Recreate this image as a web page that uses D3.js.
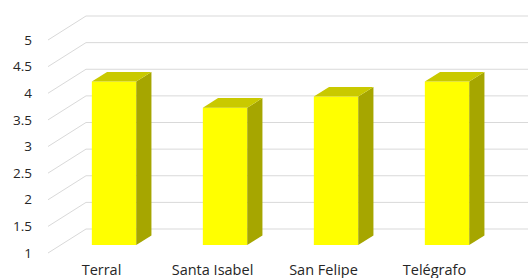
<!DOCTYPE html>
<html>
<head>
<meta charset="utf-8">
<script src="https://cdn.jsdelivr.net/npm/d3@7"></script>
<style>
  body { margin: 0; background: #fff; }
  text { font-family: "Open Sans", "Noto Sans", sans-serif; fill: #262626; }
</style>
</head>
<body>
<svg id="chart" width="528" height="278"></svg>
<script>
// ------ data
var categories = ["Terral", "Santa Isabel", "San Felipe", "Telégrafo"];
var values = [4.07, 3.58, 3.79, 4.07];
var tickValues = [1, 1.5, 2, 2.5, 3, 3.5, 4, 4.5, 5];

// ------ 3d look (Excel style)
var wallDx = 38, wallDy = -24;      // full depth of the walls
var barFront = 0.33, barDepth = 0.4; // fractions of the full depth

var svg = d3.select("#chart");

var y = d3.scaleLinear().domain([1, 5]).range([253, 40]);
var x = d3.scaleBand().domain(categories).range([46, 490])
  .paddingInner(0.6).paddingOuter(0.3);

var x0 = 48; // front edge of left wall

// gridlines: left wall diagonals + back wall horizontals
var grid = svg.append("g").attr("stroke", "#d9d9d9").attr("stroke-width", 1).attr("fill", "none");
tickValues.forEach(function(v) {
  grid.append("path")
    .attr("d", "M" + x0 + "," + y(v) + "L" + (x0 + wallDx) + "," + (y(v) + wallDy) + "L528," + (y(v) + wallDy));
});

// y tick labels
svg.append("g").selectAll("text")
  .data(tickValues)
  .enter().append("text")
  .attr("x", 32)
  .attr("y", function(d) { return y(d); })
  .attr("dy", "0.35em")
  .attr("text-anchor", "end")
  .style("font-size", "13.5px")
  .text(function(d) { return d; });

// bars
var fdx = wallDx * barFront, fdy = wallDy * barFront;
var ddx = wallDx * barDepth, ddy = wallDy * barDepth;
var bars = svg.append("g");
categories.forEach(function(c, i) {
  var l = x(c) + fdx, r = l + x.bandwidth();
  var b = y(1) + fdy, t = y(values[i]) + fdy;
  var g = bars.append("g");
  // front
  g.append("path").attr("fill", "#ffff00")
    .attr("d", "M" + l + "," + b + "L" + r + "," + b + "L" + r + "," + t + "L" + l + "," + t + "Z");
  // side
  g.append("path").attr("fill", "#a6a600")
    .attr("d", "M" + r + "," + b + "L" + (r + ddx) + "," + (b + ddy) + "L" + (r + ddx) + "," + (t + ddy) + "L" + r + "," + t + "Z");
  // top
  g.append("path").attr("fill", "#c9c900")
    .attr("d", "M" + l + "," + t + "L" + r + "," + t + "L" + (r + ddx) + "," + (t + ddy) + "L" + (l + ddx) + "," + (t + ddy) + "Z");
});

// category labels
svg.append("g").selectAll("text")
  .data(categories)
  .enter().append("text")
  .attr("x", function(d) { return x(d) + x.bandwidth() / 2; })
  .attr("y", 275)
  .attr("text-anchor", "middle")
  .style("font-size", "14.5px")
  .text(function(d) { return d; });
</script>
</body>
</html>
